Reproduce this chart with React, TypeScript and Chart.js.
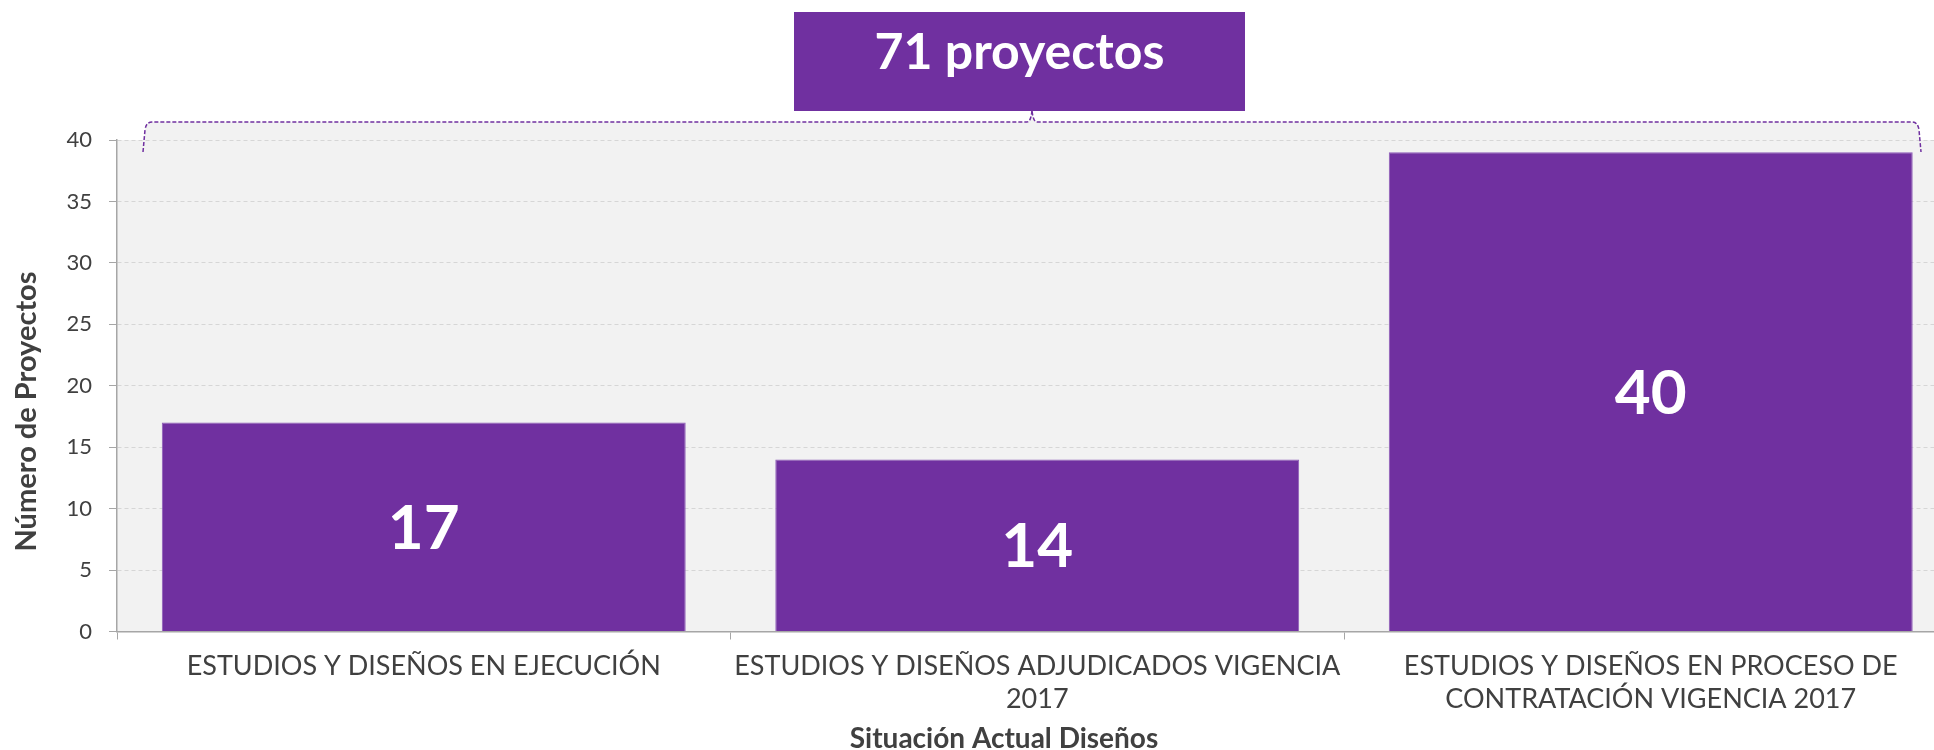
import React, { useEffect, useRef } from 'react';
import { Chart, registerables } from 'chart.js';

Chart.register(...registerables);

// ---- data ----
const categories: string[][] = [
  ['ESTUDIOS Y DISEÑOS EN EJECUCIÓN'],
  ['ESTUDIOS Y DISEÑOS ADJUDICADOS VIGENCIA', '2017'],
  ['ESTUDIOS Y DISEÑOS EN PROCESO DE', 'CONTRATACIÓN VIGENCIA 2017'],
];
const projectCounts = [17, 14, 39];
const valueLabels = ['17', '14', '40'];
const totalLabel = '71 proyectos';
const xAxisTitle = 'Situación Actual Diseños';
const yAxisTitle = 'Número de Proyectos';
const yMin = 0;
const yMax = 40;
const yStep = 5;

// ---- styles ----
const PURPLE = '#7030A0';
const PLOT_BG = '#f2f2f2';
const TEXT = '#404040';
const AXIS = '#a6a6a6';
const FONT = 'Lato, "Open Sans", sans-serif';

const CANVAS_W = 2008;
const CANVAS_H = 823;
const VALUE_FONT = 62;

const decorPlugin = {
  id: 'decor',
  beforeDraw(chart: any) {
    const { ctx, chartArea } = chart;
    const a = chartArea;
    ctx.save();
    ctx.fillStyle = PLOT_BG;
    ctx.fillRect(a.left, a.top, a.right - a.left, a.bottom - a.top);
    const p = bracePath(a);
    ctx.beginPath();
    tracePath(ctx, p);
    ctx.closePath();
    ctx.fill();
    ctx.restore();
  },
  afterDatasetsDraw(chart: any) {
    const { ctx } = chart;
    const meta = chart.getDatasetMeta(0);
    ctx.save();
    ctx.fillStyle = '#ffffff';
    ctx.font = `bold ${VALUE_FONT}px ${FONT}`;
    ctx.textAlign = 'center';
    ctx.textBaseline = 'alphabetic';
    meta.data.forEach((bar: any, i: number) => {
      const cy = (bar.y + bar.base) / 2;
      ctx.fillText(valueLabels[i], bar.x, cy + VALUE_FONT * 0.358);
    });
    ctx.restore();
  },
  afterDraw(chart: any) {
    const { ctx, chartArea } = chart;
    const a = chartArea;
    const p = bracePath(a);
    ctx.save();
    ctx.strokeStyle = PURPLE;
    ctx.lineWidth = 1.5;
    ctx.setLineDash([4, 2]);
    ctx.beginPath();
    tracePath(ctx, p);
    ctx.stroke();
    ctx.setLineDash([]);
    // total box
    const boxCx = p.mid - 12.5;
    const boxW = 451;
    const boxTop = a.top - 128;
    const boxH = 99;
    ctx.fillStyle = PURPLE;
    ctx.fillRect(boxCx - boxW / 2, boxTop, boxW, boxH);
    ctx.fillStyle = '#ffffff';
    ctx.font = `bold 50px ${FONT}`;
    ctx.textAlign = 'center';
    ctx.textBaseline = 'alphabetic';
    ctx.fillText(totalLabel, boxCx, boxTop + 57);
    // x axis title
    ctx.fillStyle = TEXT;
    ctx.font = `bold 28px ${FONT}`;
    ctx.fillText(xAxisTitle, chart.width / 2, a.bottom + 116.5);
    // y axis title
    ctx.save();
    ctx.translate(36, chart.height / 2);
    ctx.rotate(-Math.PI / 2);
    ctx.font = `bold 29px ${FONT}`;
    ctx.fillText(yAxisTitle, 0, 0);
    ctx.restore();
    ctx.restore();
  },
};

function bracePath(a: any) {
  const L = a.left + 26;
  const R = a.left + 1804;
  const top = a.top - 18;
  const bot = a.top + 12;
  const mid = (L + R) / 2;
  return { L, R, top, bot, mid };
}

function tracePath(ctx: CanvasRenderingContext2D, p: any) {
  const { L, R, top, bot, mid } = p;
  ctx.moveTo(L, bot);
  ctx.lineTo(L + 2, top + 8);
  ctx.quadraticCurveTo(L + 3, top, L + 9, top);
  ctx.lineTo(mid - 5, top);
  ctx.quadraticCurveTo(mid - 1, top, mid, top - 12);
  ctx.quadraticCurveTo(mid + 1, top, mid + 5, top);
  ctx.lineTo(R - 9, top);
  ctx.quadraticCurveTo(R - 3, top, R - 2, top + 8);
  ctx.lineTo(R, bot);
}

export default function App() {
  const ref = useRef<HTMLCanvasElement | null>(null);
  useEffect(() => {
    if (!ref.current) return;
    const chart = new Chart(ref.current, {
      type: 'bar',
      data: {
        labels: categories,
        datasets: [
          {
            data: projectCounts,
            backgroundColor: PURPLE,
            borderColor: '#8d5bb8',
            borderWidth: 1,
            categoryPercentage: 1,
            barPercentage: 0.854,
          },
        ],
      },
      plugins: [decorPlugin],
      options: {
        responsive: false,
        animation: false,
        devicePixelRatio: 1,
        layout: { padding: { top: 140, right: 50.5, left: 0, bottom: 0 } },
        plugins: {
          legend: { display: false },
          tooltip: { enabled: false },
          title: { display: false },
        },
        scales: {
          x: {
            grid: {
              display: true,
              drawOnChartArea: false,
              drawTicks: true,
              tickLength: 8,
              color: AXIS,
              tickColor: AXIS,
              offset: true,
            },
            border: { display: true, color: AXIS, width: 1.5 },
            ticks: {
              color: TEXT,
              font: { family: FONT, size: 27, lineHeight: 33 / 27 },
              padding: 10,
              maxRotation: 0,
              autoSkip: false,
            },
            afterFit: (s: any) => {
              s.height = CANVAS_H - 631.5;
            },
          },
          y: {
            min: yMin,
            max: yMax,
            ticks: {
              stepSize: yStep,
              color: TEXT,
              font: { family: FONT, size: 22 },
              padding: 17,
            },
            grid: {
              color: '#d6d6d6',
              tickColor: AXIS,
              tickLength: 8,
              tickBorderDash: [],
            },
            border: { display: true, color: AXIS, width: 1.5, dash: [4, 3] },
            afterFit: (s: any) => {
              s.width = 117;
            },
          },
        },
      },
    } as any);
    return () => chart.destroy();
  }, []);

  return (
    <div
      style={{
        position: 'fixed',
        left: 0,
        top: 0,
        width: 1934,
        height: 750,
        overflow: 'hidden',
        background: '#ffffff',
      }}
    >
      <canvas
        ref={ref}
        width={CANVAS_W}
        height={CANVAS_H}
        style={{ width: CANVAS_W, height: CANVAS_H, display: 'block' }}
      />
    </div>
  );
}
